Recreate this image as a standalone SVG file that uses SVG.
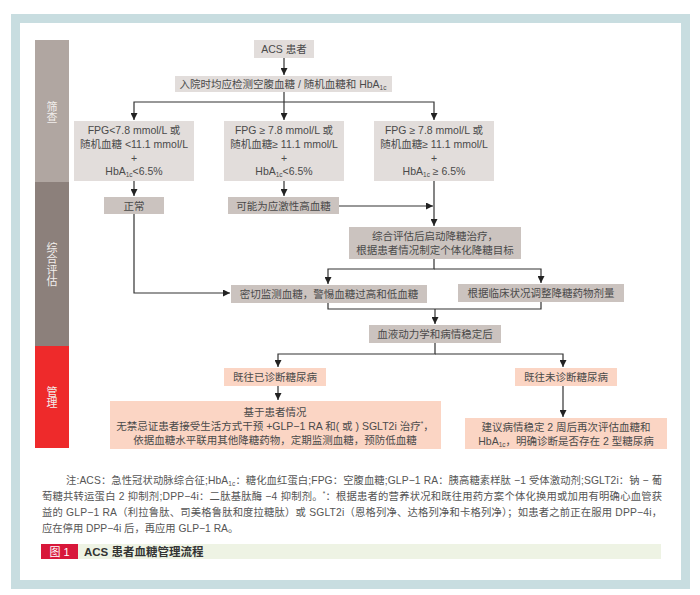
<svg xmlns="http://www.w3.org/2000/svg" width="700" height="595" viewBox="0 0 700 595">
<style>
text{font-family:"Liberation Sans","Noto Sans CJK SC",sans-serif;fill:#4a4a4a;font-size:10.5px}
.c{text-anchor:middle}
.g1{fill:#e2dddb}
.g2{fill:#cbc3bf}
.pk{fill:#fbd5c4}
.side{fill:#f2eeec;font-size:11px;text-anchor:middle}
.con{fill:none;stroke:#333;stroke-width:1.2}
.sub{font-size:6.5px}
.fn{fill:#555;font-size:10.3px}
</style>
<defs>
<marker id="ah" viewBox="0 0 10 10" refX="10" refY="5" markerWidth="9" markerHeight="7" markerUnits="userSpaceOnUse" orient="auto">
<path d="M0,0 L10,5 L0,10 z" fill="#222"/>
</marker>
</defs>
<rect x="0" y="0" width="700" height="595" fill="#fff"/>
<rect x="15.5" y="18.5" width="670" height="566" fill="#fff" stroke="#c8dde0" stroke-width="9"/>

<g id="sidebar">
<rect x="35" y="40" width="34" height="142" fill="#b0a6a1"/>
<rect x="35" y="182" width="34" height="164" fill="#8c807b"/>
<rect x="35" y="346" width="34" height="102" fill="#ee2a2b"/>
<text class="side" x="52" y="111">筛</text>
<text class="side" x="52" y="122">查</text>
<text class="side" x="52" y="252">综</text>
<text class="side" x="52" y="263">合</text>
<text class="side" x="52" y="274">评</text>
<text class="side" x="52" y="285">估</text>
<text class="side" x="52" y="396">管</text>
<text class="side" x="52" y="407">理</text>
</g>

<g id="connectors">
<path class="con" d="M284,58 V75" marker-end="url(#ah)"/>
<path class="con" d="M284,92 V120" marker-end="url(#ah)"/>
<path class="con" d="M284,102 H134 V120" marker-end="url(#ah)"/>
<path class="con" d="M284,102 H434 V120" marker-end="url(#ah)"/>
<path class="con" d="M134,181 V196" marker-end="url(#ah)"/>
<path class="con" d="M284,181 V196" marker-end="url(#ah)"/>
<path class="con" d="M339,206 H433" marker-end="url(#ah)"/>
<path class="con" d="M434,181 V226" marker-end="url(#ah)"/>
<path class="con" d="M434,259 V269 H328 V284" marker-end="url(#ah)"/>
<path class="con" d="M434,269 H541 V283" marker-end="url(#ah)"/>
<path class="con" d="M134,214 V293 H230" marker-end="url(#ah)"/>
<path class="con" d="M328,303 V309 H541 V302"/>
<path class="con" d="M435,309 V324" marker-end="url(#ah)"/>
<path class="con" d="M435,343 V354 H278 V367" marker-end="url(#ah)"/>
<path class="con" d="M435,354 H563 V367" marker-end="url(#ah)"/>
<path class="con" d="M278,386 V400" marker-end="url(#ah)"/>
<path class="con" d="M563,386 V417" marker-end="url(#ah)"/>
</g>

<g id="n_acs">
<rect class="g1" x="254" y="40" width="60" height="18"/>
<text class="c" x="284" y="53">ACS 患者</text>
</g>
<g id="n_check">
<rect class="g1" x="175" y="76" width="217" height="16"/>
<text class="c" x="283" y="88">入院时均应检测空腹血糖 / 随机血糖和 HbA<tspan class="sub" dy="2">1c</tspan></text>
</g>
<g id="n_b1">
<rect class="g1" x="74" y="121" width="120" height="60"/>
<text class="c" x="134" y="134">FPG&lt;7.8 mmol/L 或</text>
<text class="c" x="134" y="148">随机血糖 &lt;11.1 mmol/L</text>
<text class="c" x="134" y="162">+</text>
<text class="c" x="134" y="175">HbA<tspan class="sub" dy="2">1c</tspan><tspan dy="-2">&lt;6.5%</tspan></text>
</g>
<g id="n_b2">
<rect class="g1" x="224" y="121" width="120" height="60"/>
<text class="c" x="284" y="134">FPG ≥ 7.8 mmol/L 或</text>
<text class="c" x="284" y="148">随机血糖≥ 11.1 mmol/L</text>
<text class="c" x="284" y="162">+</text>
<text class="c" x="284" y="175">HbA<tspan class="sub" dy="2">1c</tspan><tspan dy="-2">&lt;6.5%</tspan></text>
</g>
<g id="n_b3">
<rect class="g1" x="374" y="121" width="120" height="60"/>
<text class="c" x="434" y="134">FPG ≥ 7.8 mmol/L 或</text>
<text class="c" x="434" y="148">随机血糖≥ 11.1 mmol/L</text>
<text class="c" x="434" y="162">+</text>
<text class="c" x="434" y="175">HbA<tspan class="sub" dy="2">1c</tspan><tspan dy="-2"> ≥ 6.5%</tspan></text>
</g>
<g id="n_normal">
<rect class="g2" x="104" y="197" width="60" height="17"/>
<text class="c" x="134" y="209.5">正常</text>
</g>
<g id="n_stress">
<rect class="g2" x="228" y="197" width="111" height="17"/>
<text class="c" x="283.5" y="209.5">可能为应激性高血糖</text>
</g>
<g id="n_eval">
<rect class="g2" x="349" y="227" width="172" height="32"/>
<text class="c" x="435" y="240">综合评估后启动降糖治疗，</text>
<text class="c" x="435" y="254">根据患者情况制定个体化降糖目标</text>
</g>
<g id="n_monitor">
<rect class="g2" x="231" y="285" width="196" height="18"/>
<text class="c" x="329" y="297.5">密切监测血糖，警惕血糖过高和低血糖</text>
</g>
<g id="n_adjust">
<rect class="g2" x="458" y="284" width="166" height="18"/>
<text class="c" x="541" y="296.5">根据临床状况调整降糖药物剂量</text>
</g>
<g id="n_stable">
<rect class="g2" x="369" y="325" width="132" height="18"/>
<text class="c" x="435" y="337.5">血液动力学和病情稳定后</text>
</g>
<g id="n_known">
<rect class="pk" x="224" y="368" width="102" height="18"/>
<text class="c" x="275" y="380.5">既往已诊断糖尿病</text>
</g>
<g id="n_unknown">
<rect class="pk" x="515" y="368" width="102" height="18"/>
<text class="c" x="566" y="380.5">既往未诊断糖尿病</text>
</g>
<g id="n_mgmt">
<rect class="pk" x="110" y="401" width="331" height="48"/>
<text class="c" x="275" y="416">基于患者情况</text>
<text class="c" x="275" y="429.5">无禁忌证患者接受生活方式干预 +GLP−1 RA 和( 或 ) SGLT2i 治疗<tspan class="sub" dy="-4">*</tspan><tspan dy="4">，</tspan></text>
<text class="c" x="275" y="443.5">依据血糖水平联用其他降糖药物，定期监测血糖，预防低血糖</text>
</g>
<g id="n_reeval">
<rect class="pk" x="465" y="418" width="202" height="31"/>
<text class="c" x="566" y="431">建议病情稳定 2 周后再次评估血糖和</text>
<text class="c" x="566" y="445">HbA<tspan class="sub" dy="2">1c</tspan><tspan dy="-2">，明确诊断是否存在 2 型糖尿病</tspan></text>
</g>

<g id="footnote">
<text class="fn" x="66" y="484" textLength="596" lengthAdjust="spacing">注:ACS：急性冠状动脉综合征;HbA<tspan class="sub" dy="2">1c</tspan><tspan dy="-2">：糖化血红蛋白;FPG：空腹血糖;GLP−1 RA：胰高糖素样肽 −1 受体激动剂;SGLT2i：钠 − 葡</tspan></text>
<text class="fn" x="42" y="500" textLength="620" lengthAdjust="spacing">萄糖共转运蛋白 2 抑制剂;DPP−4i：二肽基肽酶 −4 抑制剂。<tspan class="sub" dy="-4">*</tspan><tspan dy="4">：根据患者的营养状况和既往用药方案个体化换用或加用有明确心血管获</tspan></text>
<text class="fn" x="42" y="516" textLength="620" lengthAdjust="spacing">益的 GLP−1 RA（利拉鲁肽、司美格鲁肽和度拉糖肽）或 SGLT2i（恩格列净、达格列净和卡格列净）；如患者之前正在服用 DPP−4i，</text>
<text class="fn" x="42" y="532">应在停用 DPP−4i 后，再应用 GLP−1 RA。</text>
</g>

<g id="caption">
<rect x="41" y="544" width="37" height="15" fill="#d8173a"/>
<rect x="78" y="544" width="583" height="15" fill="#eef3e4"/>
<text x="59.5" y="555.5" class="c" style="fill:#fff;font-size:11px">图 1</text>
<text x="84" y="556" style="fill:#333;font-size:11.5px;font-weight:bold">ACS 患者血糖管理流程</text>
</g>
</svg>
